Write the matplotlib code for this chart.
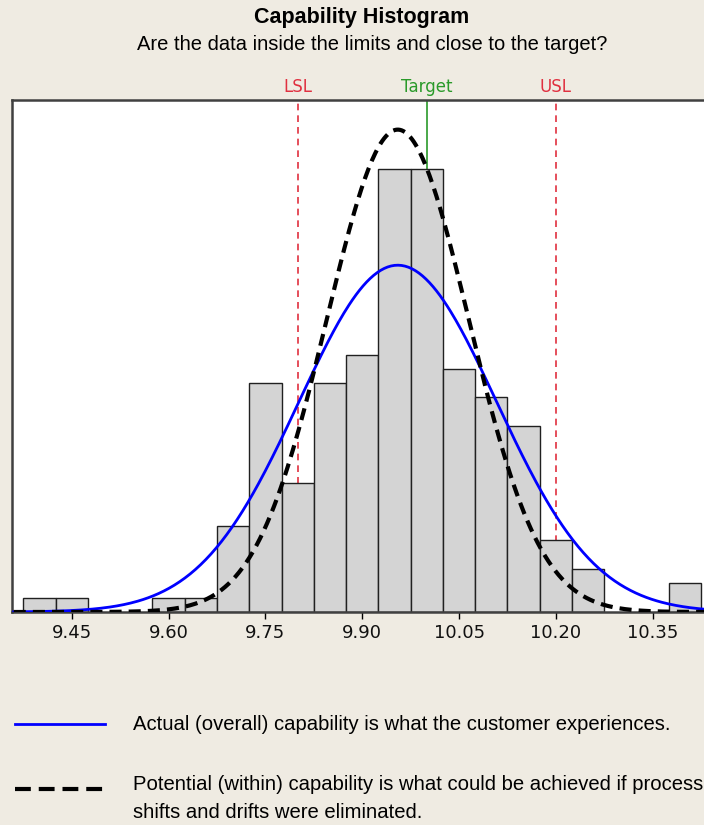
import numpy as np
import matplotlib.pyplot as plt

# ヒストグラムのデータ（ビン中心と度数）
bin_centers = [9.40, 9.45, 9.60, 9.65, 9.70, 9.75, 9.80, 9.85, 9.90, 9.95,
               10.00, 10.05, 10.10, 10.15, 10.20, 10.25, 10.40]
counts = [1, 1, 1, 1, 6, 16, 9, 16, 18, 31, 31, 17, 15, 13, 5, 3, 2]
bin_width = 0.05

# 規格
lsl = 9.80
target = 10.00
usl = 10.20

# 正規分布のパラメータ（全体 / 群内）
mean_overall = 9.955
sd_overall = 0.153
mean_within = 9.955
sd_within = 0.110

tick_values = [9.45, 9.60, 9.75, 9.90, 10.05, 10.20, 10.35]
tick_labels = ["9.45", "9.60", "9.75", "9.90", "10.05", "10.20", "10.35"]

bg = "#EFEBE2"
fig = plt.figure(figsize=(7.04, 8.25), dpi=100, facecolor=bg)
ax = fig.add_axes([12 / 704, 213 / 825, 694 / 704, 512 / 825])
ax.set_facecolor("white")

n = sum(counts)
x = np.linspace(9.36, 10.44, 400)


def norm_curve(x, m, s):
    return n * bin_width * np.exp(-0.5 * ((x - m) / s) ** 2) / (s * np.sqrt(2 * np.pi))


# 規格線（棒の後ろ）
ax.axvline(lsl, color="#E03040", ls=(0, (4, 3)), lw=1.2, zorder=1)
ax.axvline(usl, color="#E03040", ls=(0, (4, 3)), lw=1.2, zorder=1)
ax.axvline(target, color="#2A9A2A", lw=1.2, zorder=1)

ax.bar(bin_centers, counts, width=bin_width, color="#D4D4D4",
       edgecolor="#202020", linewidth=1.0, zorder=2)

ax.plot(x, norm_curve(x, mean_overall, sd_overall), color="#0000FF", lw=2, zorder=3)
ax.plot(x, norm_curve(x, mean_within, sd_within), color="black", lw=3,
        ls=(0, (2.9, 1.7)), zorder=4)

# 軸の範囲（右端は図の外まで）
ax.set_xlim(9.3574, 9.3574 + 694 / 645.5)
ax.set_ylim(0, 35.8)
ax.set_yticks([])
ax.set_xticks(tick_values)
ax.set_xticklabels(tick_labels, fontsize=13, family="DejaVu Sans", color="#111111")
ax.tick_params(axis="x", direction="out", length=5, width=1, pad=4)
for side in ["left", "top", "bottom"]:
    ax.spines[side].set_color("#404040")
    ax.spines[side].set_linewidth(1.8)
ax.spines["right"].set_visible(False)

# 規格ラベル
lab_y = 35.8 + 0.9
ax.text(lsl, lab_y, "LSL", color="#E03040", ha="center", va="center", fontsize=12)
ax.text(usl, lab_y, "USL", color="#E03040", ha="center", va="center", fontsize=12)
ax.text(target, lab_y, "Target", color="#2A9A2A", ha="center", va="center", fontsize=12)

# タイトル
fig.text(362 / 704, 1 - 17 / 825, "Capability Histogram", ha="center", va="center",
         fontsize=15.5, fontweight="bold", family="Liberation Sans")
fig.text(372 / 704, 1 - 45 / 825, "Are the data inside the limits and close to the target?",
         ha="center", va="center", fontsize=14.5, family="Liberation Sans")

# 凡例
fig.lines.append(plt.Line2D([15 / 704, 105 / 704], [1 - 724 / 825] * 2,
                            transform=fig.transFigure, color="#0000FF", lw=2))
fig.lines.append(plt.Line2D([15 / 704, 105 / 704], [1 - 789 / 825] * 2,
                            transform=fig.transFigure, color="black", lw=3,
                            ls=(0, (3.8, 1.9))))
fig.text(133 / 704, 1 - 724 / 825, "Actual (overall) capability is what the customer experiences.",
         ha="left", va="center", fontsize=14.6, family="Liberation Sans")
fig.text(133 / 704, 1 - 784 / 825, "Potential (within) capability is what could be achieved if process",
         ha="left", va="center", fontsize=14.6, family="Liberation Sans")
fig.text(133 / 704, 1 - 813 / 825, "shifts and drifts were eliminated.",
         ha="left", va="center", fontsize=14.6, family="Liberation Sans")

fig.savefig("out.png", dpi=100, facecolor=bg)
